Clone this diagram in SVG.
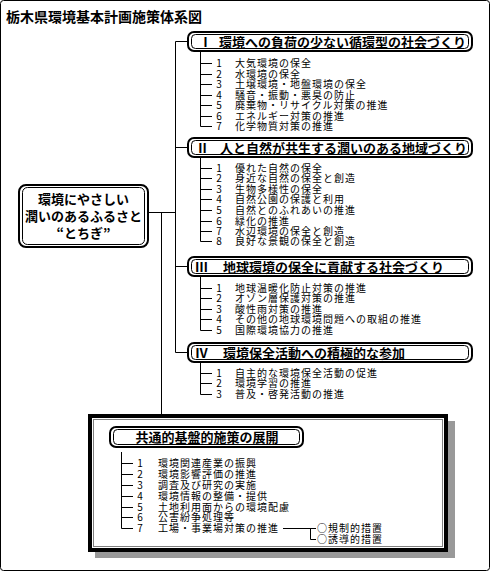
<svg xmlns="http://www.w3.org/2000/svg" width="491" height="572" viewBox="0 0 491 572">
<style>
text { font-family: "Noto Sans CJK JP", "Noto Sans CJK SC", sans-serif; fill: #000; }
.title { font-size: 14px; font-weight: bold; }
.h { font-size: 13px; font-weight: bold; }
.rn { font-family: "Liberation Serif", "Noto Sans CJK JP", serif; font-size: 13px; font-weight: bold; }
.it { font-size: 10px; letter-spacing: 1px; }
.num { font-size: 10px; text-anchor: middle; }
.ln { stroke: #000; stroke-width: 1; fill: none; }
.bo { stroke: #000; stroke-width: 2; fill: #fff; }
.bi { stroke: #000; stroke-width: 1; fill: none; }
</style>
<rect x="0" y="0" width="491" height="572" fill="#fff"/>
<rect x="0.5" y="0.5" width="489" height="570" rx="3" class="ln"/>
<text x="6" y="22" class="title">栃木県環境基本計画施策体系図</text>

<g id="common">
  <rect x="95" y="421" width="360" height="137" fill="#999"/>
  <rect x="90" y="416" width="356" height="134" fill="#fff" stroke="#000" stroke-width="4"/>
  <rect x="93.5" y="419.5" width="349" height="127" fill="none" stroke="#000" stroke-width="1" stroke-dasharray="1 1"/>
  <rect x="110" y="427" width="193" height="20" rx="6" class="bo"/>
  <rect x="113.5" y="429.5" width="186" height="15" rx="4" class="bi"/>
  <text x="207" y="442" class="h" text-anchor="middle">共通的基盤的施策の展開</text>
  <text x="140" y="467" class="num">1</text><text x="158" y="467" class="it">環境関連産業の振興</text>
  <text x="140" y="478" class="num">2</text><text x="158" y="478" class="it">環境影響評価の推進</text>
  <text x="140" y="489" class="num">3</text><text x="158" y="489" class="it">調査及び研究の実施</text>
  <text x="140" y="500" class="num">4</text><text x="158" y="500" class="it">環境情報の整備・提供</text>
  <text x="140" y="511" class="num">5</text><text x="158" y="511" class="it">土地利用面からの環境配慮</text>
  <text x="140" y="521" class="num">6</text><text x="158" y="521" class="it">公害紛争処理等</text>
  <text x="140" y="532" class="num">7</text><text x="158" y="532" class="it">工場・事業場対策の推進</text>
  <text x="317" y="532" class="it">○規制的措置</text>
  <text x="317" y="543" class="it">○誘導的措置</text>
</g>

<g id="root">
  <rect x="19" y="185" width="129" height="62" rx="7" class="bo"/>
  <rect x="22.5" y="187.5" width="122" height="57" rx="5" class="bi"/>
  <text x="83.5" y="204" class="h" text-anchor="middle">環境にやさしい</text>
  <text x="83.5" y="221" class="h" text-anchor="middle">潤いのあるふるさと</text>
  <text x="83.5" y="238" class="h" text-anchor="middle">“とちぎ”</text>
</g>

<g id="box1">
  <rect x="188" y="32" width="284" height="19" rx="6" class="bo"/>
  <rect x="191.5" y="34.5" width="277" height="14" rx="4" class="bi"/>
  <text x="199" y="46.5" class="rn">Ⅰ</text>
  <text x="219" y="46.5" class="h">環境への負荷の少ない循環型の社会づくり</text>
</g>
<g id="list1">
  <text x="219" y="67" class="num">1</text><text x="235" y="67" class="it">大気環境の保全</text>
  <text x="219" y="78" class="num">2</text><text x="235" y="78" class="it">水環境の保全</text>
  <text x="219" y="88" class="num">3</text><text x="235" y="88" class="it">土壌環境・地盤環境の保全</text>
  <text x="219" y="99" class="num">4</text><text x="235" y="99" class="it">騒音・振動・悪臭の防止</text>
  <text x="219" y="109" class="num">5</text><text x="235" y="109" class="it">廃棄物・リサイクル対策の推進</text>
  <text x="219" y="120" class="num">6</text><text x="235" y="120" class="it">エネルギー対策の推進</text>
  <text x="219" y="130" class="num">7</text><text x="235" y="130" class="it">化学物質対策の推進</text>
</g>

<g id="box2">
  <rect x="188" y="138" width="284" height="19" rx="6" class="bo"/>
  <rect x="191.5" y="140.5" width="277" height="14" rx="4" class="bi"/>
  <text x="196" y="152.5" class="rn">Ⅱ</text>
  <text x="220" y="152.5" class="h">人と自然が共生する潤いのある地域づくり</text>
</g>
<g id="list2">
  <text x="219" y="172" class="num">1</text><text x="235" y="172" class="it">優れた自然の保全</text>
  <text x="219" y="182" class="num">2</text><text x="235" y="182" class="it">身近な自然の保全と創造</text>
  <text x="219" y="193" class="num">3</text><text x="235" y="193" class="it">生物多様性の保全</text>
  <text x="219" y="203" class="num">4</text><text x="235" y="203" class="it">自然公園の保護と利用</text>
  <text x="219" y="214" class="num">5</text><text x="235" y="214" class="it">自然とのふれあいの推進</text>
  <text x="219" y="225" class="num">6</text><text x="235" y="225" class="it">緑化の推進</text>
  <text x="219" y="235" class="num">7</text><text x="235" y="235" class="it">水辺環境の保全と創造</text>
  <text x="219" y="245" class="num">8</text><text x="235" y="245" class="it">良好な景観の保全と創造</text>
</g>

<g id="box3">
  <rect x="188" y="257" width="284" height="19" rx="6" class="bo"/>
  <rect x="191.5" y="259.5" width="277" height="14" rx="4" class="bi"/>
  <text x="195" y="271.5" class="rn">Ⅲ</text>
  <text x="223" y="271.5" class="h">地球環境の保全に貢献する社会づくり</text>
</g>
<g id="list3">
  <text x="219" y="292" class="num">1</text><text x="235" y="292" class="it">地球温暖化防止対策の推進</text>
  <text x="219" y="302" class="num">2</text><text x="235" y="302" class="it">オゾン層保護対策の推進</text>
  <text x="219" y="313" class="num">3</text><text x="235" y="313" class="it">酸性雨対策の推進</text>
  <text x="219" y="323" class="num">4</text><text x="235" y="323" class="it">その他の地球環境問題への取組の推進</text>
  <text x="219" y="334" class="num">5</text><text x="235" y="334" class="it">国際環境協力の推進</text>
</g>

<g id="box4">
  <rect x="188" y="343" width="284" height="19" rx="6" class="bo"/>
  <rect x="191.5" y="345.5" width="277" height="14" rx="4" class="bi"/>
  <text x="195" y="357.5" class="rn">Ⅳ</text>
  <text x="223" y="357.5" class="h">環境保全活動への積極的な参加</text>
</g>
<g id="list4">
  <text x="219" y="377" class="num">1</text><text x="235" y="377" class="it">自主的な環境保全活動の促進</text>
  <text x="219" y="387" class="num">2</text><text x="235" y="387" class="it">環境学習の推進</text>
  <text x="219" y="398" class="num">3</text><text x="235" y="398" class="it">普及・啓発活動の推進</text>
</g>

<g id="connectors">
  <path class="ln" d="M175.5 41.5 V352.5 M175.5 41.5 H187 M175.5 147.5 H187 M175.5 266.5 H187 M175.5 352.5 H187"/>
  <path class="ln" d="M148 212.5 H175.5 M161.5 212.5 V414"/>
  <path class="ln" d="M200.5 52 V126.5 M200.5 63.5 H212 M200.5 74.5 H212 M200.5 84.5 H212 M200.5 95.5 H212 M200.5 105.5 H212 M200.5 116.5 H212 M200.5 126.5 H212"/>
  <path class="ln" d="M200.5 158 V241.5 M200.5 168.5 H212 M200.5 178.5 H212 M200.5 189.5 H212 M200.5 199.5 H212 M200.5 210.5 H212 M200.5 221.5 H212 M200.5 231.5 H212 M200.5 241.5 H212"/>
  <path class="ln" d="M200.5 277 V330.5 M200.5 288.5 H212 M200.5 298.5 H212 M200.5 309.5 H212 M200.5 319.5 H212 M200.5 330.5 H212"/>
  <path class="ln" d="M200.5 363 V394.5 M200.5 373.5 H212 M200.5 383.5 H212 M200.5 394.5 H212"/>
  <path class="ln" d="M121.5 452 V528.5 M121.5 463.5 H133 M121.5 474.5 H133 M121.5 485.5 H133 M121.5 496.5 H133 M121.5 507.5 H133 M121.5 517.5 H133 M121.5 528.5 H133"/>
  <path class="ln" d="M283 528.5 H316 M310.5 528.5 V539.5 H316"/>
</g>
</svg>
